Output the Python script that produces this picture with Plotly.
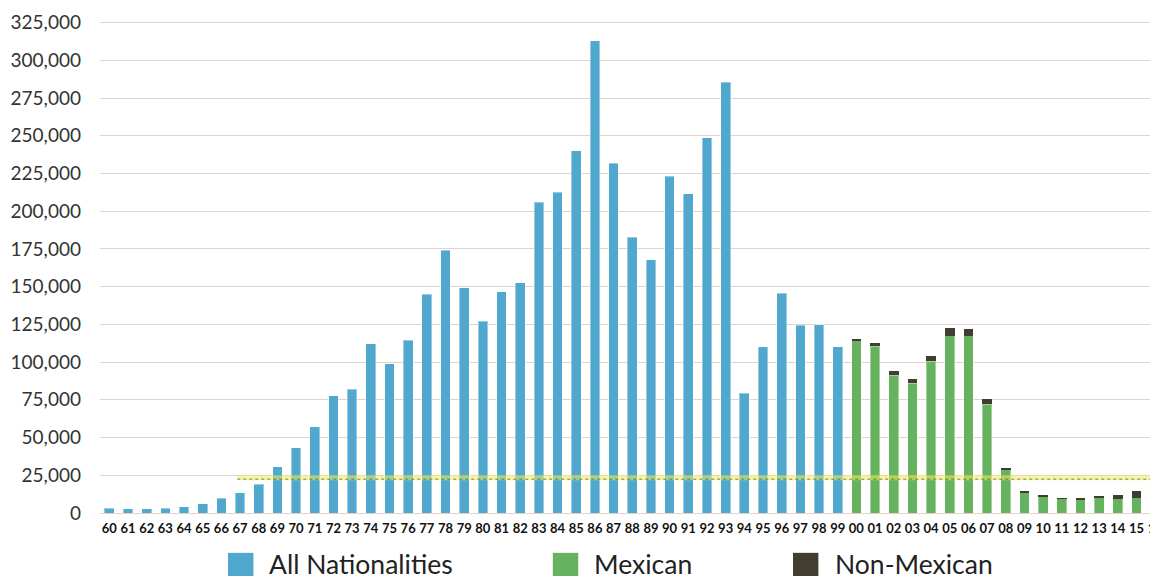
import plotly.graph_objects as go

# 年ラベル (1960-2016)
years = [f"{y % 100:02d}" for y in range(1960, 2017)]

# All Nationalities (1960-1999, 2016)
all_nationalities = [
    3100, 2700, 2700, 3100, 4200, 6200, 9700, 13300, 19000, 30500,
    43100, 57000, 77600, 82000, 112000, 98800, 114500, 145000, 174000, 149200,
    127000, 146600, 152500, 205800, 212500, 240200, 312800, 231600, 182600, 167800,
    223300, 211500, 248500, 285600, 79400, 110300, 145600, 124500, 124900, 110300,
] + [None] * 16 + [25200]

# Mexican / Non-Mexican (2000-2015)
mexican = [None] * 40 + [
    114000, 110500, 91300, 86000, 100600, 117600, 117600, 72100,
    28500, 13300, 10800, 9300, 8800, 10100, 9300, 10100,
] + [None]
non_mexican = [None] * 40 + [
    1300, 2200, 2700, 2700, 3500, 5100, 4400, 3300,
    1100, 1300, 1100, 600, 500, 700, 2600, 4300,
] + [None]

y_ticks = list(range(0, 325001, 25000))

BLUE = "#51a8cf"
GREEN = "#67b25e"
DARK = "#413d30"
FONT = "Lato"

fig = go.Figure()
fig.add_trace(go.Bar(x=years, y=all_nationalities, name="All Nationalities",
                     marker=dict(color=BLUE, line=dict(color="rgba(255,255,255,0.4)", width=1))))
fig.add_trace(go.Bar(x=years, y=mexican, name="Mexican",
                     marker=dict(color=GREEN, line=dict(color="rgba(255,255,255,0.4)", width=1))))
fig.add_trace(go.Bar(x=years, y=non_mexican, name="Non-Mexican",
                     marker=dict(color=DARK, line=dict(width=0))))

# 蛍光ペン風の線
fig.add_shape(type="line", xref="x", yref="y", x0=6.85, x1=56.3, y0=23300, y1=23300,
              line=dict(color="rgba(240,236,90,0.55)", width=5), layer="above")
fig.add_shape(type="line", xref="x", yref="y", x0=6.85, x1=56.3, y0=22400, y1=22400,
              line=dict(color="rgba(80,90,70,0.5)", width=1.5, dash="dot"), layer="above")

# 凡例（手描き）
legend_items = [("All Nationalities", BLUE, 0.121, 0.1575),
                ("Mexican", GREEN, 0.428, 0.4655),
                ("Non-Mexican", DARK, 0.655, 0.6925)]
for label, color, sx, tx in legend_items:
    fig.add_shape(type="rect", xref="paper", yref="paper", x0=sx, x1=sx + 0.024,
                  y0=-0.135, y1=-0.080, fillcolor=color, line=dict(width=0))
    fig.add_annotation(text=label, xref="paper", yref="paper", x=tx, y=-0.103,
                       xanchor="left", yanchor="middle", showarrow=False,
                       font=dict(family=FONT, size=26.5, color="#222"))

# ページ本体の余白 (8px) を差し引いたサイズ
fig.update_layout(
    width=1150, height=568,
    margin=dict(l=92, r=0, t=7, b=63, autoexpand=False),
    barmode="stack",
    bargap=0.48,
    showlegend=False,
    plot_bgcolor="white",
    paper_bgcolor="white",
    xaxis=dict(
        range=[-0.5, 56.15],
        tickfont=dict(family=FONT, size=13, color="#111", weight="bold"),
        ticklabelstandoff=6,
        showgrid=False,
        showline=False,
    ),
    yaxis=dict(
        range=[0, 330000],
        tickvals=y_ticks,
        ticktext=[f"{v:,}" for v in y_ticks],
        tickfont=dict(family=FONT, size=19, color="#333"),
        ticklabelstandoff=18,
        showgrid=True,
        gridcolor="#e5d3cb",
        gridwidth=1.3,
        zeroline=True,
        zerolinecolor="#e5d3cb",
        zerolinewidth=1.3,
    ),
)

fig.write_html("out.html")
